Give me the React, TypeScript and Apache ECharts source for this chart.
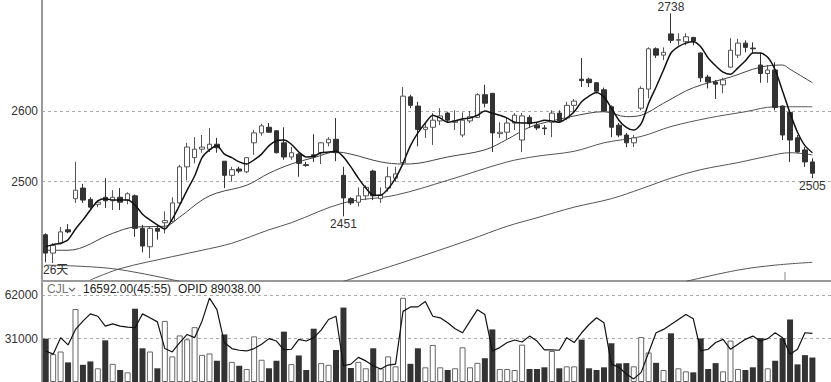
import React, { useEffect, useRef } from "react";
import * as echarts from "echarts";

// ---- Data ----
const opens = [
  2425, 2399, 2413, 2432, 2476, 2491, 2475, 2468, 2478, 2473,
  2478, 2474, 2480, 2434, 2408, 2434, 2442, 2444, 2470, 2521,
  2534, 2546, 2546, 2553, 2529, 2509, 2518, 2514, 2555, 2569,
  2577, 2572, 2555, 2535, 2539, 2524, 2538, 2541, 2555, 2560,
  2509, 2476, 2471, 2480, 2515, 2476, 2491, 2505, 2527, 2620,
  2607, 2574, 2577, 2586, 2597, 2584, 2566, 2586, 2591, 2623,
  2625, 2568, 2570, 2583, 2559, 2591, 2580, 2576, 2584, 2597,
  2590, 2608, 2645, 2645, 2640, 2630, 2606, 2580, 2566, 2555,
  2604, 2631, 2688, 2679, 2709, 2700, 2698, 2704, 2682, 2648,
  2641, 2637, 2662, 2679, 2696, 2689, 2665, 2653, 2658, 2607,
  2598, 2562, 2545, 2528,
];
const closes = [
  2399, 2410, 2429, 2429, 2488, 2474, 2464, 2471, 2473, 2478,
  2471, 2483, 2434, 2409, 2434, 2430, 2445, 2470, 2521, 2549,
  2546, 2549, 2553, 2548, 2509, 2517, 2515, 2534, 2569, 2579,
  2570, 2541, 2535, 2541, 2526, 2523, 2535, 2555, 2560, 2541,
  2477, 2470, 2480, 2492, 2480, 2481, 2507, 2511, 2621, 2608,
  2574, 2577, 2587, 2593, 2587, 2586, 2587, 2592, 2623, 2611,
  2569, 2570, 2583, 2594, 2593, 2582, 2576, 2575, 2597, 2586,
  2608, 2614, 2643, 2640, 2628, 2600, 2577, 2566, 2555, 2562,
  2632, 2688, 2679, 2683, 2700, 2701, 2705, 2699, 2647, 2641,
  2638, 2644, 2686, 2696, 2690, 2688, 2653, 2658, 2605, 2566,
  2559, 2542, 2528, 2512,
];
const lows = [
  2386, 2385, 2411, 2427, 2470, 2470, 2460, 2464, 2463, 2460,
  2460, 2468, 2422, 2400, 2392, 2418, 2427, 2442, 2468, 2502,
  2526, 2541, 2542, 2541, 2491, 2500, 2512, 2512, 2538, 2565,
  2569, 2540, 2531, 2531, 2507, 2521, 2528, 2525, 2550, 2529,
  2451, 2467, 2465, 2474, 2474, 2470, 2486, 2500, 2526, 2604,
  2550, 2562, 2552, 2580, 2583, 2573, 2563, 2583, 2590, 2605,
  2542, 2562, 2559, 2573, 2542, 2576, 2573, 2566, 2563, 2583,
  2587, 2597, 2634, 2634, 2625, 2599, 2563, 2563, 2549, 2549,
  2601, 2618, 2675, 2672, 2696, 2693, 2693, 2693, 2641, 2632,
  2617, 2625, 2661, 2675, 2683, 2682, 2640, 2640, 2601, 2559,
  2528, 2541, 2521, 2505,
];
const highs = [
  2427, 2413, 2436, 2440, 2528, 2497, 2478, 2474, 2505, 2488,
  2491, 2485, 2482, 2439, 2436, 2439, 2458, 2478, 2524, 2555,
  2563, 2566, 2576, 2562, 2529, 2521, 2521, 2535, 2573, 2582,
  2583, 2573, 2577, 2549, 2541, 2528, 2567, 2556, 2563, 2590,
  2521, 2478, 2492, 2495, 2517, 2492, 2521, 2521, 2634, 2623,
  2613, 2584, 2597, 2604, 2599, 2601, 2598, 2600, 2625, 2637,
  2625, 2584, 2590, 2597, 2597, 2594, 2584, 2580, 2601, 2601,
  2613, 2617, 2675, 2647, 2641, 2633, 2608, 2583, 2569, 2566,
  2635, 2690, 2690, 2690, 2738, 2710, 2710, 2705, 2683, 2651,
  2644, 2647, 2703, 2702, 2700, 2697, 2682, 2665, 2669, 2608,
  2601, 2566, 2549, 2533,
];
const volumes = [
  31000, 19900, 21800, 14000, 52200, 12300, 14700, 9800, 29800, 13000,
  8600, 6900, 52400, 24100, 21800, 9800, 43700, 18300, 33300, 30500,
  39200, 19400, 20400, 15200, 34000, 14400, 11600, 9300, 32600, 15900,
  9800, 15200, 36000, 12800, 19000, 8600, 38100, 13500, 12300, 22900,
  53200, 10000, 14400, 9800, 24100, 9800, 18300, 11200, 60200, 13000,
  24100, 10500, 26500, 10500, 8600, 9800, 24800, 10500, 13700, 17000,
  37600, 9300, 9300, 8600, 26700, 9300, 9300, 10500, 22200, 9800,
  11200, 11200, 30300, 9800, 8600, 10500, 27700, 13300, 13500, 11200,
  32100, 21100, 13700, 8600, 34800, 9800, 7600, 6900, 31200, 9300,
  13500, 7600, 29600, 9300, 8600, 10500, 31400, 9800, 15200, 31400,
  44700, 12600, 19200, 17500,
];
const volumeAvg = [
  22200, 19900, 31700, 26500, 37600, 43500, 48700, 47000, 39900, 41600,
  39900, 39200, 38800, 48700, 45900, 43000, 23900, 21500, 28200, 34000,
  31700, 43500, 60000, 51700, 28200, 23900, 22700, 22200, 23900, 27000,
  31000, 29300, 22900, 23400, 30500, 29300, 31700, 37100, 44700, 47000,
  11600, 12800, 17600, 15100, 11600, 9300, 12100, 12800, 50500, 53700,
  53700, 57600, 47000, 45900, 42300, 38100, 35200, 43500, 51700, 48200,
  22200, 24600, 28200, 30000, 28600, 32800, 29300, 22900, 22900, 22700,
  31700, 28200, 35200, 41100, 45900, 42300, 12800, 10500, 5700, 2200,
  6900, 21100, 35200, 37600, 41100, 44700, 48200, 45200, 22200, 23400,
  28200, 30500, 23400, 27000, 30500, 32800, 29300, 31000, 35200, 31700,
  19900, 23400, 35200, 34800,
];
const ma5 = [
  2408, 2411, 2413, 2418, 2433, 2446, 2460, 2473, 2476, 2474,
  2474, 2474, 2467, 2454, 2446, 2439, 2433, 2447, 2467, 2488,
  2508, 2534, 2545, 2551, 2539, 2534, 2528, 2525, 2531, 2539,
  2551, 2558, 2559, 2553, 2542, 2535, 2536, 2541, 2542, 2543,
  2535, 2521, 2505, 2491, 2481, 2481, 2490, 2505, 2526, 2551,
  2569, 2583, 2594, 2590, 2584, 2586, 2589, 2590, 2594, 2600,
  2597, 2594, 2590, 2584, 2583, 2583, 2584, 2587, 2586, 2584,
  2590, 2599, 2613, 2621, 2626, 2620, 2604, 2587, 2577, 2573,
  2582, 2611, 2634, 2658, 2682, 2691, 2696, 2698, 2691, 2675,
  2664, 2655, 2652, 2661, 2671, 2682, 2682, 2676, 2658, 2628,
  2597, 2570, 2551, 2541,
];
// longer averages, read as [day index, value] at points along each curve
const ma20 = [
  [0, 2403], [3, 2403], [9, 2427], [12, 2436], [16, 2437], [18, 2450], [21, 2474],
  [23, 2484], [27, 2495], [30, 2512], [33, 2525], [36, 2534], [39, 2542], [41, 2539],
  [45, 2528], [48, 2525], [50, 2526], [54, 2535], [59, 2545], [62, 2560], [65, 2577],
  [68, 2586], [73, 2597], [75, 2599], [78, 2592], [80, 2594], [83, 2611], [87, 2633],
  [92, 2648], [96, 2662], [99, 2665], [100, 2659], [103, 2640],
];
const ma60 = [
  [6, 2361], [10, 2377], [17, 2394], [21, 2403], [25, 2413], [30, 2432], [33, 2442],
  [40, 2470], [47, 2481], [54, 2502], [62, 2528], [66, 2536], [71, 2543], [75, 2555],
  [80, 2564], [84, 2578], [89, 2590], [94, 2599], [98, 2606], [103, 2606],
];
const ma120 = [
  [40, 2359], [48, 2386], [57, 2418], [62, 2437], [66, 2449], [71, 2464], [76, 2476],
  [80, 2490], [84, 2505], [88, 2517], [93, 2527], [97, 2536], [100, 2541], [103, 2538],
];
const ma250Early = [[0, 2382], [9, 2377], [18, 2359]];
const ma250Late = [[86, 2359], [93, 2375], [98, 2382], [103, 2386]];

const priceTicks = [2500, 2600];
const volumeTicks = [31000, 62000];
const slotCount = 106; // 104 trading days + 2 empty slots at the right edge
const slots = Array.from({ length: slotCount }, (_, i) => String(i + 1));

const volumeName = "CJL";
const lastVolumeText = "16592.00(45:55)";
const opidText = "OPID 89038.00";
const daysLabel = "26天";

const FONT = '"Liberation Sans", Arial, "Noto Sans CJK SC", sans-serif';

export default function App() {
  const ref = useRef<HTMLDivElement>(null);

  useEffect(() => {
    if (!ref.current) return;
    const chart = echarts.init(ref.current, null, { renderer: "svg" });

    const candleData = opens.map((o, i) => [o, closes[i], lows[i], highs[i]]);
    const volumeData = volumes.map((v, i) => ({
      value: v,
      itemStyle:
        closes[i] >= opens[i]
          ? { color: "#ffffff", borderColor: "#666666", borderWidth: 1 }
          : { color: "#333333", borderWidth: 0 },
    }));
    const maxIdx = highs.indexOf(Math.max(...highs));
    const lowA = 40;
    const lowB = lows.length - 1;

    const thinLine = (data: any, color: string) => ({
      type: "line",
      xAxisIndex: 0,
      yAxisIndex: 0,
      data,
      symbol: "none",
      smooth: 0.35,
      lineStyle: { color, width: 1 },
      silent: true,
      z: 3,
    });

    const plain = (v: number) => String(Math.round(v));

    chart.setOption({
      animation: false,
      backgroundColor: "#ffffff",
      textStyle: { fontFamily: FONT },
      grid: [
        { left: 42, right: 0, top: 0, height: 281 },
        { left: 42, right: 0, top: 283, height: 100 },
      ],
      xAxis: [
        {
          type: "category",
          gridIndex: 0,
          data: slots,
          boundaryGap: true,
          axisLine: { show: true, onZero: false, lineStyle: { color: "#999999", width: 2 } },
          axisTick: { show: false },
          axisLabel: { show: false },
          splitLine: { show: false },
        },
        {
          type: "category",
          gridIndex: 1,
          data: slots,
          boundaryGap: true,
          axisLine: { show: false },
          axisTick: { show: false },
          axisLabel: { show: false },
          splitLine: { show: false },
        },
      ],
      yAxis: [
        {
          type: "value",
          gridIndex: 0,
          min: 2359.55,
          max: 2757,
          axisLine: { show: true, lineStyle: { color: "#999999", width: 2 } },
          axisTick: { show: false, customValues: priceTicks },
          axisLabel: {
            customValues: priceTicks,
            formatter: plain,
            color: "#333333",
            fontSize: 12,
            margin: 4,
            fontFamily: FONT,
          },
          splitLine: { show: true, lineStyle: { color: "#aaaaaa", type: [3, 3], width: 1 } },
        },
        {
          type: "value",
          gridIndex: 1,
          min: 0,
          max: 70780,
          axisLine: { show: true, lineStyle: { color: "#999999", width: 2 } },
          axisTick: { show: false, customValues: volumeTicks },
          axisLabel: {
            customValues: volumeTicks,
            formatter: plain,
            color: "#333333",
            fontSize: 12,
            margin: 4,
            fontFamily: FONT,
          },
          splitLine: { show: true, lineStyle: { color: "#aaaaaa", type: [3, 3], width: 1 } },
        },
      ],
      series: [
        thinLine(ma250Early, "#555555"),
        thinLine(ma250Late, "#555555"),
        thinLine(ma120, "#555555"),
        thinLine(ma60, "#555555"),
        thinLine(ma20, "#444444"),
        {
          type: "candlestick",
          xAxisIndex: 0,
          yAxisIndex: 0,
          data: candleData,
          barWidth: 5,
          itemStyle: {
            color: "#ffffff",
            color0: "#333333",
            borderColor: "#555555",
            borderColor0: "#333333",
            borderWidth: 1,
          },
          z: 4,
          markPoint: {
            symbol: "rect",
            symbolSize: 0,
            silent: true,
            label: { show: true, color: "#333333", fontSize: 12, fontFamily: FONT },
            data: [
              { coord: [maxIdx, highs[maxIdx]], value: highs[maxIdx], label: { position: "top", distance: 0 } },
              { coord: [lowA, lows[lowA]], value: lows[lowA], label: { position: "bottom", distance: 2 } },
              { coord: [lowB, lows[lowB]], value: lows[lowB], label: { position: "bottom", distance: 2 } },
            ],
          },
        },
        {
          type: "line",
          xAxisIndex: 0,
          yAxisIndex: 0,
          data: ma5,
          symbol: "none",
          smooth: 0.25,
          lineStyle: { color: "#111111", width: 1.5 },
          z: 5,
          silent: true,
        },
        {
          type: "bar",
          xAxisIndex: 1,
          yAxisIndex: 1,
          data: volumeData,
          barWidth: 6,
          silent: true,
          z: 2,
        },
        {
          type: "line",
          xAxisIndex: 1,
          yAxisIndex: 1,
          data: volumeAvg,
          symbol: "none",
          lineStyle: { color: "#111111", width: 1.2 },
          silent: true,
          z: 3,
        },
      ],
      graphic: [
        {
          type: "text",
          left: 43,
          top: 264,
          style: { text: daysLabel, fill: "#333333", font: `12px ${FONT}` },
        },
        {
          type: "line",
          shape: { x1: 785, y1: 272, x2: 785, y2: 281 },
          style: { stroke: "#888888", lineWidth: 1 },
        },
        {
          type: "text",
          left: 47,
          top: 283,
          style: { text: volumeName, fill: "#777777", font: `12px ${FONT}` },
        },
        {
          type: "polyline",
          shape: { points: [[69, 288], [72, 291], [75, 288]] },
          style: { stroke: "#666666", lineWidth: 1.2, fill: "none" },
        },
        {
          type: "text",
          left: 83,
          top: 283,
          style: { text: lastVolumeText, fill: "#222222", font: `12px ${FONT}` },
        },
        {
          type: "text",
          left: 178,
          top: 283,
          style: { text: opidText, fill: "#222222", font: `12px ${FONT}` },
        },
      ],
    });

    return () => chart.dispose();
  }, []);

  return (
    <div
      ref={ref}
      style={{ position: "fixed", left: 0, top: 0, width: 831, height: 382, background: "#fff" }}
    />
  );
}
